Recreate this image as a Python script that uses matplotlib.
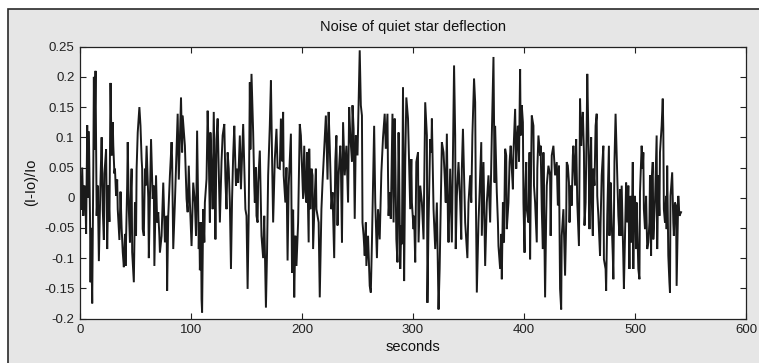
import numpy as np
import matplotlib
matplotlib.use("Agg")
import matplotlib.pyplot as plt
from matplotlib.patches import Rectangle

# values (seconds, (I-Io)/Io)
t_sec = [
    0, 1, 2, 3, 4, 5, 5.5, 6.5, 7, 8, 9, 9.5, 10, 11, 12, 12.5, 13, 14, 15, 16,
    17, 18, 18.5, 19.5, 20.5, 21.5, 22, 23.5, 24.5, 25.5, 26.5, 27.5, 28.5, 29, 29.5, 30,
    31, 31.5, 32.5, 33.5, 34, 35.5, 36.5, 37.5, 38.5, 39.5, 40.5, 41, 42.5, 43, 44, 45,
    45.5, 46.5, 47, 48.5, 49.5, 50.5, 51, 52, 53.5, 54.5, 55.5, 56, 56.5, 57.5, 58.5, 59,
    60, 61.5, 62, 63, 64, 65, 65.5, 66.5, 67, 68.5, 69.5, 70.5, 71.5, 72, 73.5, 75,
    76.5, 78, 78.5, 79.5, 81, 82.5, 83, 84, 85.5, 87, 88,
    89, 90, 91, 92, 92.5, 94.5, 96, 97, 98, 99, 100.5, 102, 103.5, 104.5, 105.5, 106.5,
    107, 107.5, 108, 109, 109.5, 110, 111, 112, 112.5, 114, 115, 116, 117, 117.5, 118.5,
    119.5, 120.5, 121.5, 122, 123, 124, 125, 126, 127.5, 128.5, 130, 131, 132, 133, 134,
    135, 136, 137, 138, 139, 140.5, 141.5, 142.5, 144, 145, 147, 148, 149, 150, 151, 152,
    153, 153.5, 154.5, 155.5, 156, 157, 157.5, 158.5, 159, 160, 160.5, 162, 163.5, 165,
    166, 167.5, 168.5, 169.5, 171, 172, 173, 174, 175.5, 177, 178, 180, 181, 182, 183,
    183.5, 185, 186, 187, 188, 190, 191, 192, 193, 194, 195, 196.5, 198, 199, 200, 201,
    202, 203, 204, 204.5, 206, 206.5, 207.5, 208.5, 209.5, 210, 211.5, 212.5, 213, 215,
    216, 217.5, 218.5, 220, 221.5, 223, 224, 225, 226.5, 227.5, 229, 230, 231, 232, 233,
    234.5, 235, 236, 237, 238.5, 240, 241.5, 242.5, 243.5, 245, 245.5, 246.5, 247.5,
    248.5, 250, 251, 252, 253, 254, 254.5, 255.5, 256.5, 257.5, 258, 259.5, 261, 262,
    263, 265, 266, 267.5, 268.5, 270, 271.5, 273, 274.5, 275.5, 277,
    277.5, 278, 279, 280, 281.5, 282.5, 283.5, 284, 285, 286, 287, 287.5, 288.5, 289.5,
    290, 291, 292, 293, 294, 295.5, 296, 297, 297.5, 298.5, 299, 300.5, 301, 302, 303,
    304.5, 305, 306.5, 308, 309.5, 311, 312.5, 313, 314, 315.5, 316.5, 317, 318.5, 320,
    321.5, 323, 324, 325, 326, 327.5, 328.5, 329.5, 330.5, 331.5, 332, 333.5, 335, 337,
    338, 338.5, 339.5, 341, 342.5, 343.5, 344, 345, 346.5, 347, 349, 350, 351.5, 352.5,
    353.5, 355, 356, 356.5, 357.5, 359, 360, 361.5, 362, 363.5, 365, 366.5, 368, 369.5,
    371, 372.5,
    373.5, 374, 375.5, 376.5, 377, 378.5, 379.5, 380, 381, 382, 383, 384, 384.5, 386,
    387, 388, 389, 390, 390.5, 392, 393, 393.5, 394.5, 395.5, 396.5, 397, 398, 399,
    399.5, 400.5, 401, 402, 402.5, 404, 405, 405.5, 406, 407, 408.5, 409, 410, 411.5,
    412, 413, 414.5, 415, 416, 417, 417.5, 419, 420, 420.5, 422, 423.5, 424, 425, 426.5,
    428, 429.5, 430.5, 431.5, 432.5, 433.5, 434, 435.5, 437, 438, 438.5, 439.5, 440.5,
    441, 442, 443, 444, 444.5, 446, 447, 447.5, 448, 449.5, 450.5, 451.5, 452, 453, 454,
    454.5, 455.5, 456.5, 457, 458, 459,
    459.5, 460.5, 461, 462, 462.5, 463.5, 464.5, 465.5, 466, 467, 468.5, 469, 470, 471.5,
    472, 473.5, 474, 475, 476.5, 477, 478, 479, 480, 480.5, 481.5, 482.5, 483, 484,
    484.5, 485, 486, 486.5, 487, 488, 489.5, 490, 491, 492, 493, 494, 495, 495.5, 496,
    497, 498, 498.5, 499, 500, 501, 501.5, 503, 504, 504.5, 506, 507, 507.5, 508, 509,
    510, 511, 512, 513, 513.5, 514.5, 515, 516, 516.5, 518, 519.5, 520, 521, 522, 522.5,
    524, 525, 525.5, 526, 527, 528, 528.5, 529, 530, 531, 531.5, 532, 533.5, 534.5, 535,
    536, 537, 537.5, 539, 540, 541.5,
]

deflection = [
    0.03, -0.02, 0.05, -0.03, 0.02, -0.01, -0.06, 0.12, 0.0, 0.11, -0.03, -0.14, -0.05, -0.175, 0.05, 0.2, 0.08, 0.21, -0.03, 0.02,
    -0.105, -0.01, 0.03, 0.1, -0.02, -0.07, 0.04, 0.08, -0.085, 0.02, -0.04, 0.19, 0.07, 0.1, 0.125, 0.086,
    0.04, 0.048, 0.003, 0.03, -0.019, -0.07, 0.01, -0.05, -0.09, -0.115, -0.06, -0.113, 0.02, 0.092, -0.02, -0.074,
    -0.013, 0.048, -0.09, -0.14, -0.008, -0.063, 0.048, 0.108, 0.15, 0.119, 0.064, 0.048, -0.052, -0.063, 0.048, 0.02,
    0.086, 0.0, -0.1, 0.0, 0.097, 0.03, -0.002, 0.02, -0.113, 0.037, -0.041, -0.024, -0.063, -0.091, -0.063, 0.025,
    -0.074, -0.03, -0.154, -0.03, 0.037, 0.092, 0.064, -0.085, -0.008, 0.081, 0.139,
    0.03, 0.1, 0.166, 0.075, 0.136, 0.086, -0.002, -0.024, 0.053, -0.008, -0.08, 0.025, -0.008, -0.063, 0.111, -0.019,
    -0.085, -0.041, -0.12, -0.041, -0.168, -0.19, -0.019, -0.074, -0.008, 0.031, 0.144, 0.07, -0.041, 0.108, 0.048,
    -0.019, 0.142, 0.02, -0.069, 0.097, 0.131, 0.048, -0.041, 0.06, 0.103, 0.122, 0.03, -0.019, 0.075, 0.048,
    -0.008, -0.118, -0.002, 0.07, 0.119, 0.02, 0.048, 0.025, 0.103, 0.014, 0.122, 0.048, -0.019, -0.03, -0.151, -0.03,
    0.191, 0.08, 0.205, 0.136, 0.108, 0.02, -0.008, 0.05, -0.03, -0.041, 0.025, 0.078, -0.063, -0.1,
    -0.03, -0.182, -0.091, 0.037, 0.12, 0.194, 0.07, -0.041, 0.064, 0.114, 0.05, 0.048, 0.131, 0.06, 0.142,
    0.037, -0.008, 0.05, -0.104, 0.02, 0.106, -0.124, -0.02, -0.165, -0.063, -0.113, -0.041, 0.122, 0.103, 0.048, -0.002,
    0.086, 0.009, -0.008, 0.075, -0.074, 0.081, -0.019, 0.048, 0.037, -0.085, 0.003, 0.048, -0.019, -0.041,
    -0.165, -0.019, 0.025, 0.08, 0.136, 0.03, 0.142, 0.086, -0.019, 0.009, -0.1, 0.06, 0.103, -0.046, 0.037,
    0.086, 0.06, -0.074, 0.125, 0.037, 0.086, -0.008, 0.15, 0.103, 0.06, 0.153, 0.114, -0.035,
    0.103, 0.07, 0.158, 0.244, 0.153, 0.136, -0.041, -0.063, -0.096, -0.041, -0.113, -0.063, -0.146, -0.157,
    -0.074, 0.119, -0.008, -0.1, -0.019, -0.069, 0.042, 0.1, 0.139, 0.081, 0.139,
    0.037, -0.03, 0.009, -0.035, 0.139, -0.041, 0.131, 0.075, -0.069, -0.107, 0.108, 0.048, -0.118, -0.046,
    -0.077, 0.183, -0.138, 0.06, 0.166, 0.131, 0.092, 0.009, -0.019, 0.064, -0.008, -0.052, -0.03, -0.107, 0.059,
    0.075, -0.074, 0.02, -0.008, -0.069, 0.158, 0.103, -0.174, -0.041, 0.097, 0.075, 0.131, -0.019, -0.085,
    -0.008, -0.185, -0.118, -0.008, 0.092, 0.075, 0.037, -0.008, 0.106, -0.041, -0.074, 0.048, -0.074, 0.219,
    0.103, -0.085, 0.003, 0.059, -0.008, -0.069, 0.048, 0.114, -0.008, -0.041, -0.1, -0.008, 0.037, -0.008,
    0.103, 0.197, 0.158, 0.025, -0.157, -0.041, 0.009, 0.092, -0.063, 0.059, -0.113, -0.008, 0.037, -0.041,
    0.103, 0.233,
    0.025, 0.119, 0.009, -0.041, -0.08, -0.118, -0.06, -0.135, -0.008, -0.074, 0.081, 0.07, -0.052, -0.008,
    0.059, 0.086, 0.048, 0.014, 0.075, 0.147, 0.048, 0.086, 0.119, 0.06, 0.213, 0.103, 0.153, 0.125,
    -0.008, -0.091, 0.003, 0.059, -0.019, -0.041, 0.075, -0.102, -0.008, 0.136, 0.119, 0.02, -0.008, -0.074,
    0.048, 0.103, 0.07, 0.086, -0.019, -0.085, 0.075, -0.165, -0.03, 0.02, 0.053, 0.037, -0.063, 0.07, 0.086,
    0.037, 0.059, -0.013, 0.053, -0.151, -0.185, -0.063, -0.019, -0.129, -0.041, 0.059, 0.053, 0.025,
    -0.041, 0.02, -0.013, 0.07, 0.086, 0.02, 0.097, 0.048, -0.008, -0.08, 0.164, 0.086, 0.114, 0.142, 0.075,
    -0.046, -0.008, 0.12, 0.205, 0.103, -0.052,
    0.042, 0.1, 0.0, -0.063, 0.048, 0.02, 0.119, 0.139, 0.003, -0.03, -0.096, -0.041, 0.037, 0.086,
    -0.102, -0.118, -0.154, -0.03, 0.086, -0.063, 0.025, -0.041, -0.096, -0.135, 0.06, 0.139, 0.103, 0.037,
    0.003, -0.03, -0.063, 0.014, -0.063, 0.02, -0.102, -0.151, -0.063, 0.025, -0.041, 0.02, -0.118, -0.019, 0.003,
    -0.074, 0.059, -0.118, -0.019, 0.003, -0.085, -0.008, -0.118, -0.135, 0.009, 0.086, 0.048, 0.075, -0.019, -0.052,
    0.003, -0.085, -0.074, -0.041, 0.037, -0.096, 0.025, 0.059, -0.069, -0.008, 0.103, -0.085, 0.037, -0.03, 0.075,
    0.119, 0.164, 0.114, -0.019, -0.041, 0.003, -0.052, 0.053, -0.096, -0.14, -0.157, 0.003, 0.042, -0.041, -0.063,
    -0.008, -0.013, -0.146, 0.003, -0.03, -0.024,
]

x_ticks = [0, 100, 200, 300, 400, 500, 600]
y_ticks = [-0.2, -0.15, -0.1, -0.05, 0, 0.05, 0.1, 0.15, 0.2, 0.25]
y_labels = ["-0.2", "-0.15", "-0.1", "-0.05", "0", "0.05", "0.1", "0.15", "0.2", "0.25"]

plt.rcParams['font.family'] = ['Liberation Sans', 'DejaVu Sans']

fig = plt.figure(figsize=(7.59, 3.63), dpi=100, facecolor='white')
# grey panel with dark border on the left and top
fig.patches.append(Rectangle((8 / 759, -0.1), 1.2, (363 - 9) / 363 + 0.1,
                             transform=fig.transFigure, facecolor='#e6e6e6',
                             edgecolor='#2a2a2a', linewidth=1.2, zorder=-1))

ax = fig.add_axes([80 / 759, (363 - 318.5) / 363, (746 - 80) / 759, (318.5 - 46.7) / 363])
ax.set_facecolor('white')
ax.plot(t_sec, deflection, color='#1a1a1a', linewidth=1.4, solid_joinstyle='miter')

ax.set_xlim(0, 600)
ax.set_ylim(-0.2, 0.25)
ax.set_xticks(x_ticks)
ax.set_yticks(y_ticks)
ax.set_yticklabels(y_labels)
ax.tick_params(direction='in', length=4, width=0.8, top=True, right=True,
               labelsize=9.5, colors='#222222', pad=4)
for s in ax.spines.values():
    s.set_linewidth(0.9)
    s.set_color('#222222')

ax.set_title('Noise of quiet star deflection', fontsize=10.5, pad=11, color='#111111')
ax.set_xlabel('seconds', fontsize=10.5, labelpad=3, color='#111111')
ax.set_ylabel('(I-Io)/Io', fontsize=10.5, labelpad=4, color='#111111')

fig.savefig('out.png', dpi=100, facecolor=fig.get_facecolor())
